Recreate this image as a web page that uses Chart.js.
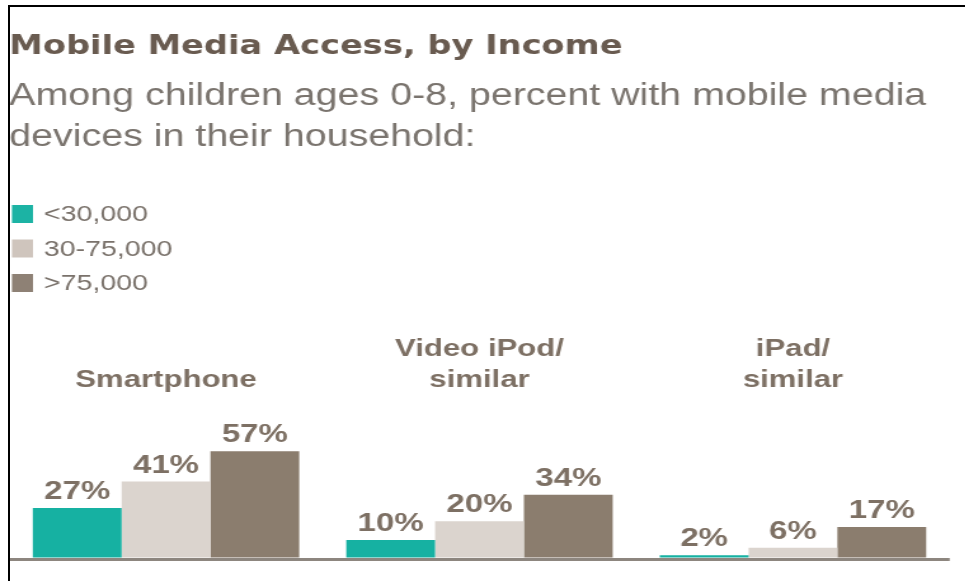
<!DOCTYPE html>
<html>
<head>
<meta charset="utf-8">
<script src="https://cdn.jsdelivr.net/npm/chart.js@4/dist/chart.umd.min.js"></script>
<style>
  html, body { margin: 0; padding: 0; background: #ffffff; overflow: hidden; }
  body { width: 965px; height: 581px; position: relative; }
  #wrap { position: absolute; left: 0; top: 0; width: 760px; height: 581px;
          transform: scaleX(1.27); transform-origin: 0 0; }
  #frame { position: absolute; left: 8px; top: 5px; width: 980px; height: 600px;
           border-top: 2.5px solid #000; border-left: 2.5px solid #000; z-index: 5;
           pointer-events: none; }
</style>
</head>
<body>
<div id="wrap"><canvas id="c"></canvas></div>
<div id="frame"></div>
<script>
// ---- data ----
const categories = ['Smartphone', ['Video iPod/', 'similar'], ['iPad/', 'similar']];
const seriesNames = ['<30,000', '30-75,000', '>75,000'];
const under30k = [27, 10, 2];
const from30to75k = [41, 20, 6];
const over75k = [57, 34, 17];
const titleText = 'Mobile Media Access, by Income';
const subtitleLines = ['Among children ages 0-8, percent with mobile media', 'devices in their household:'];

const colors = ['#16b1a2', '#dbd4ce', '#8b7d6e'];
const legendColors = ['#1cb3a4', '#cfc5bd', '#8e8175'];

const legendPlugin = {
  id: 'sideLegend',
  afterDraw(chart) {
    const ctx = chart.ctx;
    ctx.save();
    ctx.font = '22.5px "Liberation Sans", Arial, sans-serif';
    ctx.textBaseline = 'middle';
    ctx.textAlign = 'left';
    chart.data.datasets.forEach((ds, i) => {
      const y = 214 + i * 34.5;
      ctx.fillStyle = legendColors[i];
      ctx.fillRect(9.4, y - 9, 16.6, 18);
      ctx.fillStyle = '#7a726b';
      ctx.fillText(ds.label, 34.5, y + 1);
    });
    ctx.restore();
  }
};

const valueLabelPlugin = {
  id: 'valueLabels',
  afterDatasetsDraw(chart) {
    const ctx = chart.ctx;
    ctx.save();
    ctx.font = 'bold 26px "Liberation Sans", Arial, sans-serif';
    ctx.fillStyle = '#7d7064';
    ctx.textAlign = 'center';
    ctx.textBaseline = 'alphabetic';
    chart.data.datasets.forEach((ds, i) => {
      const meta = chart.getDatasetMeta(i);
      meta.data.forEach((bar, j) => {
        ctx.fillText(ds.data[j] + '%', bar.x, bar.y - 9);
      });
    });
    ctx.restore();
  }
};

new Chart(document.getElementById('c'), {
  type: 'bar',
  data: {
    labels: categories,
    datasets: [
      { label: seriesNames[0], data: under30k, backgroundColor: colors[0] },
      { label: seriesNames[1], data: from30to75k, backgroundColor: colors[1] },
      { label: seriesNames[2], data: over75k, backgroundColor: colors[2] }
    ]
  },
  options: {
    responsive: true,
    maintainAspectRatio: false,
    animation: false,
    events: [],
    layout: { padding: { left: 7.3, right: 12.2, top: 0, bottom: 22 } },
    datasets: { bar: { barPercentage: 1.0, categoryPercentage: 0.85, borderWidth: 0 } },
    scales: {
      x: {
        position: 'top',
        grid: { display: false, drawTicks: false },
        border: { display: false },
        ticks: {
          autoSkip: false, maxRotation: 0, minRotation: 0, padding: 3,
          color: '#7d7064',
          font: { family: '"Liberation Sans", Arial, sans-serif', size: 24.5, weight: 'bold', lineHeight: '31px' }
        }
      },
      y: {
        min: 0, max: 85,
        z: 1,
        border: { display: false },
        ticks: { display: false, stepSize: 10 },
        grid: {
          drawTicks: false,
          lineWidth: 3,
          color: (c) => (c.tick && c.tick.value === 0) ? '#8d867f' : 'rgba(0,0,0,0)'
        }
      }
    },
    plugins: {
      legend: { display: false },
      tooltip: { enabled: false },
      title: {
        display: true, text: titleText, align: 'start',
        color: '#695b50',
        font: { family: '"DejaVu Sans", sans-serif', size: 26.5, weight: 'bold', lineHeight: 1.2 },
        padding: { top: 31, bottom: 0 }
      },
      subtitle: {
        display: true, text: subtitleLines, align: 'start',
        color: '#7a746e',
        font: { family: '"Liberation Sans", Arial, sans-serif', size: 31, weight: 'normal', lineHeight: '41px' },
        padding: { top: 12.7, bottom: 173 }
      }
    }
  },
  plugins: [legendPlugin, valueLabelPlugin]
});
</script>
</body>
</html>
